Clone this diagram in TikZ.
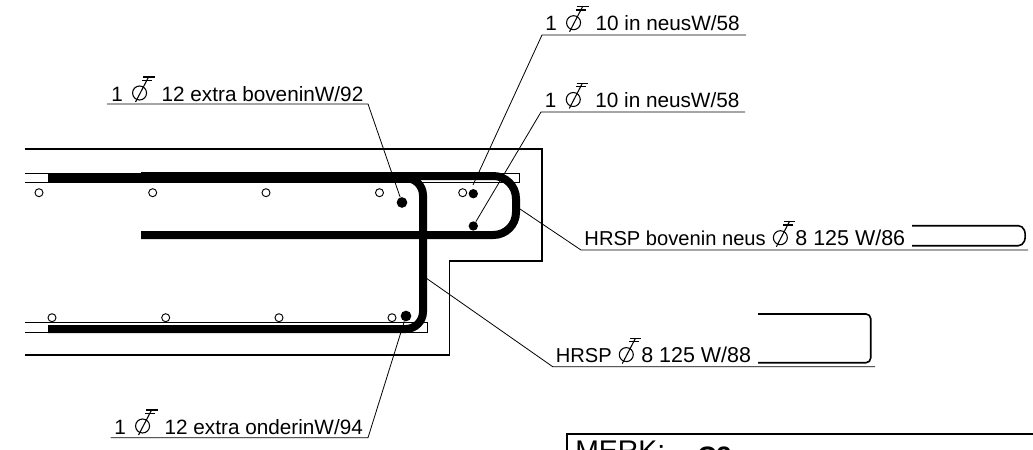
\documentclass[tikz,border=0pt]{standalone}
\usepackage{xcolor}
\usepackage{fontspec}
\setmainfont{Liberation Sans}
\usepackage{tikz}
\usetikzlibrary{positioning}

\tikzset{
  outline/.style={line width=1.3pt},
  cover/.style={line width=0.7pt},
  rebar/.style={line width=6pt},
  stirrup/.style={line width=1.2pt,rounded corners=3.5pt},
  leader/.style={line width=0.6pt},
  ring/.style={circle,draw,line width=0.7pt,minimum size=6pt,inner sep=0pt},
  dot/.style={circle,fill=black,inner sep=0pt},
  label/.style={anchor=base west,inner sep=0pt,font=\fontsize{15.55}{18}\selectfont}
}
\newcommand{\staaf}{\tikz[baseline=0pt,x=0.75pt,y=0.75pt,xscale=1,yscale=1,line width=0.8pt]{%
  \path[use as bounding box] (0,0) rectangle (24,14);
  \draw (9,8) circle (7);
  \draw (5,-1) -- (18,24);
  \draw (12.5,24) -- (24,24);
  \draw (11.5,20.7) -- (21.5,20.7);}}
\newcommand{\maat}[1]{{\fontsize{16.1}{18}\selectfont #1}}

\begin{document}
\begin{tikzpicture}[x=0.75pt,y=0.75pt,yscale=-1,xscale=1]
\clip (0,0) rectangle (1033,450);

%Concrete outline
\draw [outline] (25,149) -- (542,149) -- (542,260.7) -- (449.5,260.7) -- (449.5,355) -- (25,355) ;
%Cover bars
\draw [cover] (25,173) -- (519,173) -- (519,182) -- (25,182) ;
\draw [cover] (25,322) -- (427,322) -- (427,332.7) -- (25,332.7) ;

%Small rings top
\node [ring] (rt1) at (39,192.7) {};
\node [ring] (rt2) at (152.7,192.7) {};
\node [ring] (rt3) at (266,192.7) {};
\node [ring] (rt4) at (379.5,192.7) {};
\node [ring] (rt5) at (462.7,192.7) {};
%Small rings bottom
\node [ring] (rb1) at (52,317.7) {};
\node [ring] (rb2) at (165.7,317.7) {};
\node [ring] (rb3) at (279,317.7) {};
\node [ring] (rb4) at (392,317.7) {};

%Main bar
\draw [rebar,rounded corners=13pt] (48,329) -- (423,329) -- (423,178) -- (48,178) ;
\draw [line width=7pt] (48,178) -- (141,178) ;
%Nose bar
\draw [rebar,rounded corners=17pt] (141,235) -- (516,235) -- (516,176) -- (141,176) ;

%Extra bars
\node [dot,minimum size=8pt] (extraTop) at (402,202.5) {};
\node [dot,minimum size=7pt] (neusTop) at (473.3,193.7) {};
\node [dot,minimum size=7pt] (neusBot) at (473.3,226) {};
\node [dot,minimum size=8pt] (extraBot) at (406,316) {};

%Leader points
\coordinate (a1) at (107,104);
\coordinate (a2) at (368,104);
\coordinate (b1) at (542,35);
\coordinate (b2) at (746,35);
\coordinate (c1) at (541,112);
\coordinate (c2) at (745,112);
\coordinate (d1) at (581,250);
\coordinate (d2) at (1028,250);
\coordinate (d3) at (520,209);
\coordinate (e1) at (552.7,366.7);
\coordinate (e2) at (875,366.7);
\coordinate (e3) at (426,278);
\coordinate (f1) at (110.7,437.7);
\coordinate (f2) at (368,437.7);
\coordinate (g1) at (473,185);

%Leaders
\draw [leader] (a1) -- (a2) -- (extraTop) ;
\draw [leader] (b2) -- (b1) -- (g1) ;
\draw [leader] (c2) -- (c1) -- (neusBot) ;
\draw [leader] (d2) -- (d1) -- (d3) ;
\draw [leader] (e2) -- (e1) -- (e3) ;
\draw [leader] (f1) -- (f2) -- (extraBot) ;

%Bar shapes
\draw [stirrup] (912,225.7) -- (1023,225.7) -- (1026,235.7) -- (1023,245.7) -- (912,245.7) ;
\draw [stirrup] (758,314) -- (870.7,314) -- (870.7,362.7) -- (758,362.7) ;

% Text Node
\node [label] (t1) at (111,101) {1 \kern1.5pt\staaf\kern1pt\ 12 extra boveninW/92};
% Text Node
\node [label] (t2) at (545,30.7) {1 \kern1.5pt\staaf\kern1pt\ 10 in neusW/58};
% Text Node
\node [label] (t3) at (544.7,107.5) {1 \kern1.5pt\staaf\kern1pt\ 10 in neusW/58};
% Text Node
\node [label] (t4) at (114,434) {1 \kern1.5pt\staaf\kern1pt\ 12 extra onderinW/94};
% Text Node
\node [label,font=\fontsize{15.1}{18}\selectfont] (t5) at (584.2,245.7) {HRSP bovenin neus \staaf\maat{8 125 W/86}};
% Text Node
\node [label,font=\fontsize{15.1}{18}\selectfont] (t6) at (555.5,362.6) {HRSP \staaf\maat{8 125 W/88}};

%Stamp box
\draw [line width=1.8pt] (567,460) -- (567,434) -- (1040,434) ;
% Text Node
\node [anchor=base west,inner sep=0pt,font=\fontsize{21.3}{24}\selectfont] (merk) at (575,460) {MERK:};
% Text Node
\node [anchor=base west,inner sep=0pt,font=\fontsize{20}{24}\selectfont\bfseries] (code) at (697,465) {C3};

\end{tikzpicture}
\end{document}
